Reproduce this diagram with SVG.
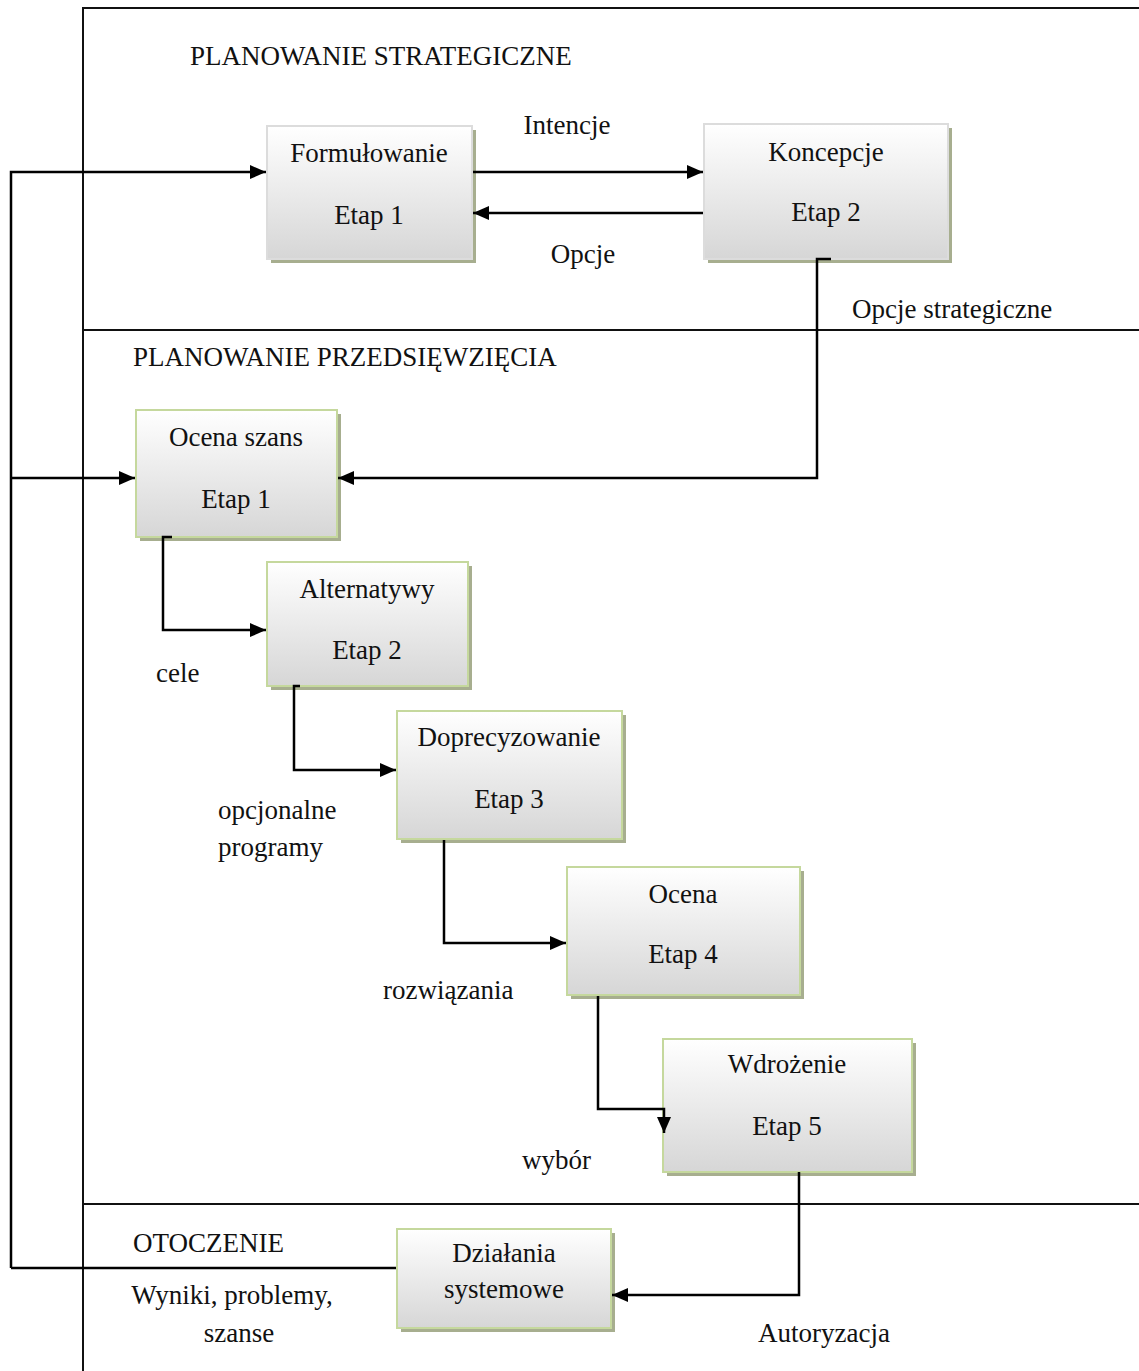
<svg xmlns="http://www.w3.org/2000/svg" width="1139" height="1371" viewBox="0 0 1139 1371">
  <style>
    text { font-family: "Liberation Serif", "Times New Roman", serif; font-size: 27px; fill: #111; }
    .c { text-anchor: middle; }
    .frame { stroke: #111; stroke-width: 2; fill: none; }
    .conn { stroke: #000; stroke-width: 2.5; fill: none; }
    .shadow { fill: #a7ae8f; }
    .box { fill: url(#boxFill); stroke: #c5d89d; stroke-width: 2; }
    .box.grey { stroke: #dcdcdc; }
  </style>
  <defs>
    <linearGradient id="boxFill" x1="0" y1="0" x2="0" y2="1">
      <stop offset="0" stop-color="#ffffff"/>
      <stop offset="1" stop-color="#d6d6d6"/>
    </linearGradient>
    <marker id="arrow" viewBox="0 0 16 14" refX="16" refY="7" markerWidth="16" markerHeight="14" markerUnits="userSpaceOnUse" orient="auto">
      <path d="M0,0 L16,7 L0,14 Z" fill="#000"/>
    </marker>
  </defs>

  <rect width="1139" height="1371" fill="#fff"/>

  <!-- swimlane frame -->
  <g id="frame">
    <path class="frame" d="M1139,8 H83 V1371"/>
    <path class="frame" d="M83,330 H1139"/>
    <path class="frame" d="M83,1204 H1139"/>
  </g>

  <!-- lane titles and flow labels -->
  <g id="labels">
    <text x="190" y="65">PLANOWANIE STRATEGICZNE</text>
    <text x="133" y="366">PLANOWANIE PRZEDSIĘWZIĘCIA</text>
    <text x="133" y="1252">OTOCZENIE</text>
    <text x="567" y="134" class="c">Intencje</text>
    <text x="583" y="263" class="c">Opcje</text>
    <text x="852" y="318">Opcje strategiczne</text>
    <text x="156" y="682">cele</text>
    <text x="218" y="819">opcjonalne</text>
    <text x="218" y="856">programy</text>
    <text x="383" y="999">rozwiązania</text>
    <text x="522" y="1169">wybór</text>
    <text x="232" y="1304" class="c">Wyniki, problemy,</text>
    <text x="239" y="1342" class="c">szanse</text>
    <text x="758" y="1342">Autoryzacja</text>
  </g>

  <!-- strategic planning nodes -->
  <g id="formulowanie">
    <rect class="shadow" x="271" y="130" width="205" height="133"/>
    <rect class="box grey" x="267" y="126" width="205" height="133"/>
    <text x="369" y="162" class="c">Formułowanie</text>
    <text x="369" y="224" class="c">Etap 1</text>
  </g>
  <g id="koncepcje">
    <rect class="shadow" x="708" y="128" width="244" height="135"/>
    <rect class="box grey" x="704" y="124" width="244" height="135"/>
    <text x="826" y="161" class="c">Koncepcje</text>
    <text x="826" y="221" class="c">Etap 2</text>
  </g>

  <!-- project planning nodes -->
  <g id="ocena-szans">
    <rect class="shadow" x="140" y="414" width="201" height="127"/>
    <rect class="box" x="136" y="410" width="201" height="127"/>
    <text x="236" y="446" class="c">Ocena szans</text>
    <text x="236" y="508" class="c">Etap 1</text>
  </g>
  <g id="alternatywy">
    <rect class="shadow" x="271" y="566" width="201" height="124"/>
    <rect class="box" x="267" y="562" width="201" height="124"/>
    <text x="367" y="598" class="c">Alternatywy</text>
    <text x="367" y="659" class="c">Etap 2</text>
  </g>
  <g id="doprecyzowanie">
    <rect class="shadow" x="401" y="715" width="225" height="128"/>
    <rect class="box" x="397" y="711" width="225" height="128"/>
    <text x="509" y="746" class="c">Doprecyzowanie</text>
    <text x="509" y="808" class="c">Etap 3</text>
  </g>
  <g id="ocena">
    <rect class="shadow" x="571" y="871" width="233" height="128"/>
    <rect class="box" x="567" y="867" width="233" height="128"/>
    <text x="683" y="903" class="c">Ocena</text>
    <text x="683" y="963" class="c">Etap 4</text>
  </g>
  <g id="wdrozenie">
    <rect class="shadow" x="667" y="1043" width="249" height="133"/>
    <rect class="box" x="663" y="1039" width="249" height="133"/>
    <text x="787" y="1073" class="c">Wdrożenie</text>
    <text x="787" y="1135" class="c">Etap 5</text>
  </g>

  <!-- environment node -->
  <g id="dzialania">
    <rect class="shadow" x="401" y="1233" width="214" height="99"/>
    <rect class="box" x="397" y="1229" width="214" height="99"/>
    <text x="504" y="1262" class="c">Działania</text>
    <text x="504" y="1298" class="c">systemowe</text>
  </g>

  <!-- connectors, drawn over the boxes -->
  <g id="connectors">
    <path class="conn" d="M11,1268 V172 H266" marker-end="url(#arrow)"/>
    <path class="conn" d="M11,478 H135" marker-end="url(#arrow)"/>
    <path class="conn" d="M11,1268 H396"/>
    <path class="conn" d="M473,172 H703" marker-end="url(#arrow)"/>
    <path class="conn" d="M703,213 H473" marker-end="url(#arrow)"/>
    <path class="conn" d="M831,259 H817 V478 H338" marker-end="url(#arrow)"/>
    <path class="conn" d="M172,537 H163 V630 H266" marker-end="url(#arrow)"/>
    <path class="conn" d="M300,686 H294 V770 H396" marker-end="url(#arrow)"/>
    <path class="conn" d="M444,840 V943 H566" marker-end="url(#arrow)"/>
    <path class="conn" d="M598,996 V1109 H664 V1133" marker-end="url(#arrow)"/>
    <path class="conn" d="M799,1172 V1295 H612" marker-end="url(#arrow)"/>
  </g>
</svg>
